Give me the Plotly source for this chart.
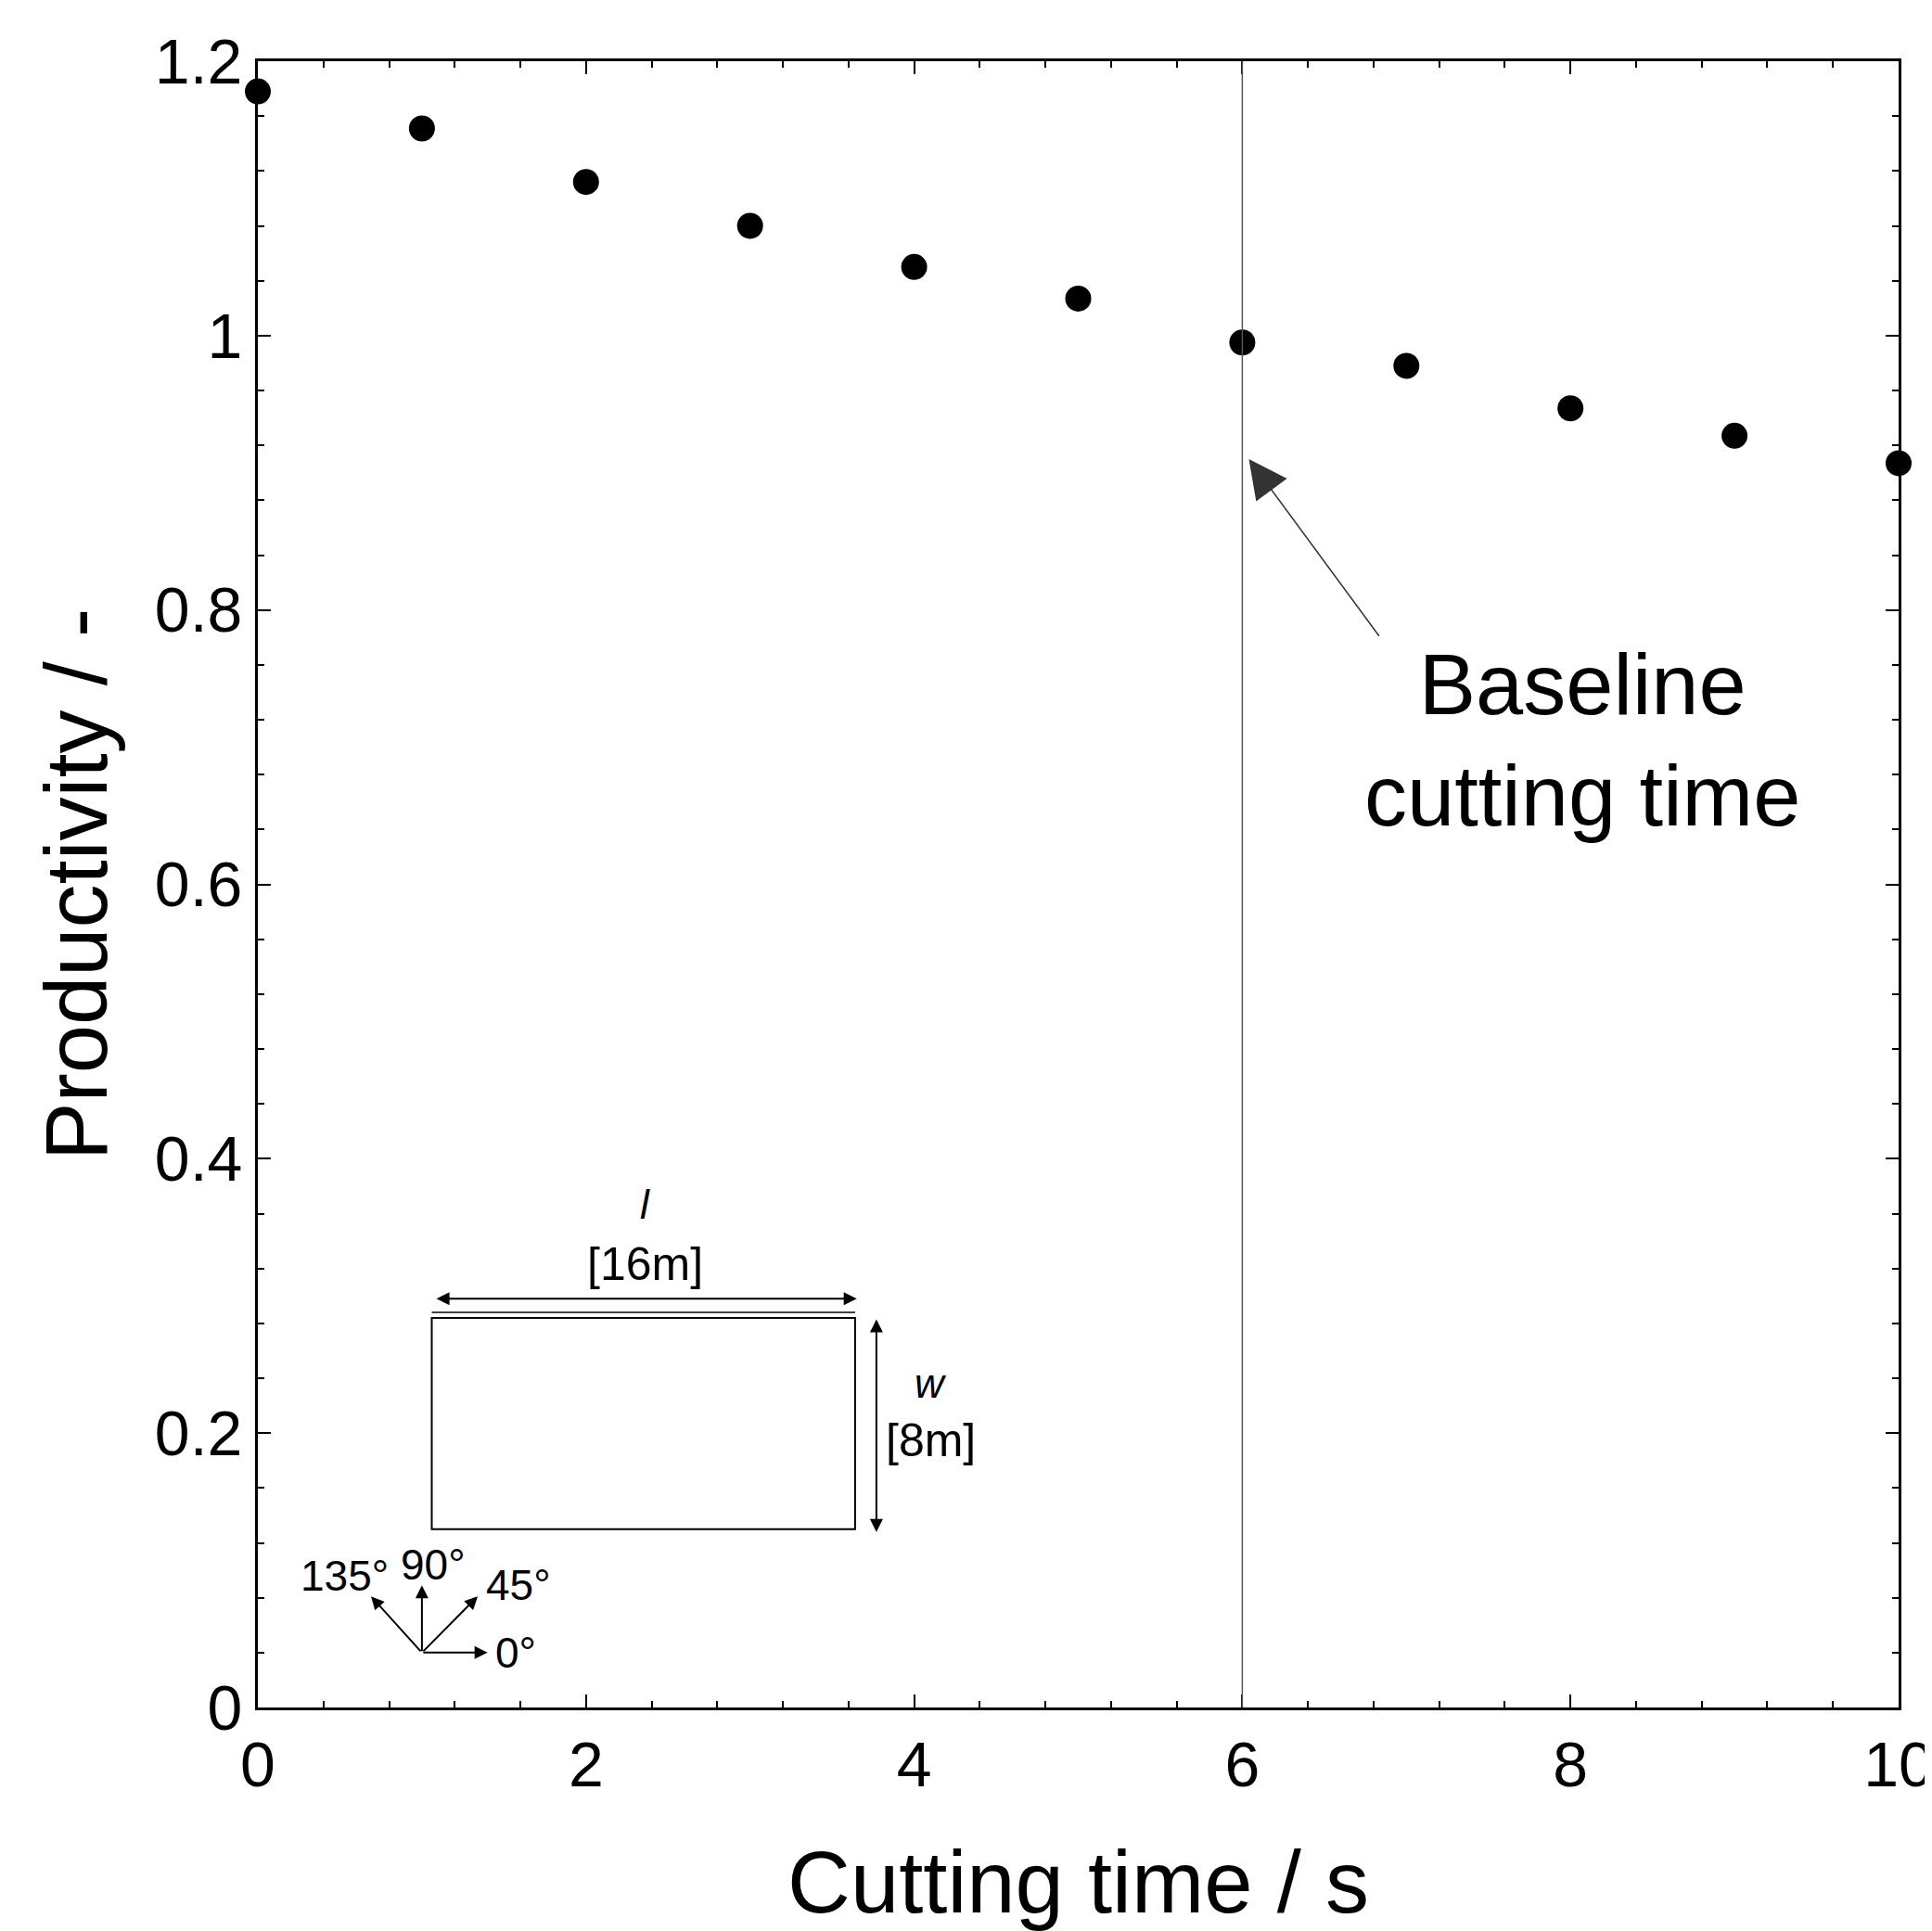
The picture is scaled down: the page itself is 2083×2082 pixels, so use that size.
import plotly.graph_objects as go

# ---- data ----
cutting_time = [0, 1, 2, 3, 4, 5, 6, 7, 8, 9, 10]
productivity = [1.178, 1.151, 1.112, 1.080, 1.050, 1.027, 0.995, 0.978, 0.947, 0.927, 0.907]
baseline_time = 6
x_ticks = [0, 2, 4, 6, 8, 10]
y_ticks = [0, 0.2, 0.4, 0.6, 0.8, 1.0, 1.2]
y_tick_labels = ["0", "0.2", "0.4", "0.6", "0.8", "1", "1.2"]

FONT = "Liberation Sans, Arial, sans-serif"

fig = go.Figure()
fig.add_trace(go.Scatter(
    x=cutting_time, y=productivity, mode="markers",
    marker=dict(color="black", size=28),
    cliponaxis=False, showlegend=False,
))

# baseline vertical line
fig.add_shape(type="line", xref="x", yref="paper", x0=baseline_time, x1=baseline_time,
              y0=0, y1=1, line=dict(color="#555555", width=1.5))

# annotation arrow + text
fig.add_annotation(x=6.04, y=0.91, ax=6.84, ay=0.78, axref="x", ayref="y",
                   text="", showarrow=True, arrowhead=2, arrowsize=5.5, arrowwidth=1.5,
                   arrowcolor="#333333")
fig.add_annotation(x=8.07, y=0.705, text="Baseline<br>cutting time", showarrow=False,
                   font=dict(family=FONT, size=92, color="black"), align="center")

# ---- inset sketch ----
rect_x0, rect_x1, rect_y0, rect_y1 = 1.06, 3.64, 0.130, 0.284
fig.add_shape(type="rect", x0=rect_x0, x1=rect_x1, y0=rect_y0, y1=rect_y1,
              line=dict(color="black", width=2))
fig.add_shape(type="line", x0=rect_x0, x1=rect_x1, y0=rect_y1 + 0.004, y1=rect_y1 + 0.004,
              line=dict(color="black", width=1.5))
# dimension arrows
fig.add_annotation(x=3.65, y=0.298, ax=1.08, ay=0.298, axref="x", ayref="y", text="",
                   showarrow=True, arrowhead=2, arrowside="end+start", arrowsize=1.4,
                   arrowwidth=2, arrowcolor="black")
fig.add_annotation(x=3.77, y=0.128, ax=3.77, ay=0.284, axref="x", ayref="y", text="",
                   showarrow=True, arrowhead=2, arrowside="end+start", arrowsize=1.4,
                   arrowwidth=2, arrowcolor="black")
fig.add_annotation(x=2.36, y=0.367, text="<i>l</i>", showarrow=False,
                   font=dict(family=FONT, size=44, color="black"))
fig.add_annotation(x=2.36, y=0.323, text="[16m]", showarrow=False,
                   font=dict(family=FONT, size=50, color="black"))
fig.add_annotation(x=4.1, y=0.236, text="<i>w</i>", showarrow=False,
                   font=dict(family=FONT, size=44, color="black"))
fig.add_annotation(x=4.1, y=0.195, text="[8m]", showarrow=False,
                   font=dict(family=FONT, size=50, color="black"))

# compass
ox, oy = 1.0, 0.04
compass_ends = [(1.40, 0.04), (1.34, 0.081), (1.0, 0.089), (0.69, 0.081)]
for ex, ey in compass_ends:
    fig.add_annotation(x=ex, y=ey, ax=ox, ay=oy, axref="x", ayref="y", text="",
                       showarrow=True, arrowhead=2, arrowsize=1.4, arrowwidth=2,
                       arrowcolor="black")
compass_labels = [("0°", 1.57, 0.040), ("45°", 1.59, 0.089), ("90°", 1.07, 0.104), ("135°", 0.53, 0.096)]
for t, lx, ly in compass_labels:
    fig.add_annotation(x=lx, y=ly, text=t, showarrow=False,
                       font=dict(family=FONT, size=46, color="black"))

axis_common = dict(
    showline=True, linecolor="black", linewidth=3, mirror="ticks",
    ticks="inside", ticklen=14, tickwidth=2, tickcolor="black",
    showgrid=False, zeroline=False, ticklabeloverflow="allow",
    tickfont=dict(family=FONT, size=68, color="black"),
)

fig.update_xaxes(range=[0, 10], tickvals=x_ticks,
                 minor=dict(ticks="inside", ticklen=7, tickwidth=2, tickcolor="black", dtick=0.4, tick0=0, showgrid=False),
                 title=dict(text="Cutting time / s", font=dict(family=FONT, size=94, color="black"), standoff=58),
                 **axis_common)
fig.update_yaxes(range=[0, 1.2], tickvals=y_ticks, ticktext=y_tick_labels,
                 minor=dict(ticks="inside", ticklen=7, tickwidth=2, tickcolor="black", dtick=0.04, tick0=0, showgrid=False),
                 title=dict(text="Productivity / -", font=dict(family=FONT, size=94, color="black"), standoff=20),
                 **axis_common)

fig.update_layout(
    width=2083, height=2082,
    margin=dict(l=270, r=44, t=58, b=249, autoexpand=False),
    plot_bgcolor="white", paper_bgcolor="white",
    font=dict(family=FONT, color="black"),
    showlegend=False,
)

fig.write_html("out.html")
